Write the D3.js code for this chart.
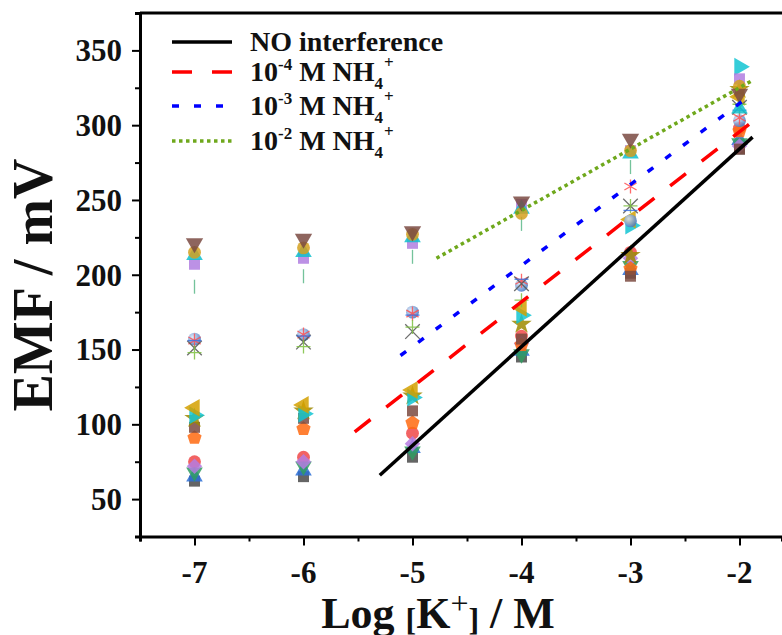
<!doctype html>
<html lang="en">
  <head>
    <meta charset="UTF-8" />
    <title>EMF vs Log [K+]</title>
    <style>
      body { margin: 0; background: #fff; }
      svg text { font-family: "Liberation Serif", "Times New Roman", serif; font-weight: bold; fill: #111; }
    </style>
  </head>
  <body>
    <div id="chart"></div>
    <script src="https://cdn.jsdelivr.net/npm/d3@7"></script>
    <script>
      // concentrations (log scale)
      const logK = [-7, -6, -5, -4, -3, -2];

      // measured EMF values (mV), one array per series
      const sDarkSquare   = [62, 65, 78, 145, 201, 284];
      const sRedCircle    = [75, 78, 94, 159, 215, 298];
      const sBlueTri      = [65, 69, 84, 149, 203, 290];
      const sGreenDown    = [68, 72, 82, 147, 206, 288];
      const sDiamond      = [72, 75, 87, 154, 211, 286];
      const sPentagon     = [91, 97, 101, 153, 204, 296];
      const sBrownSquare  = [98, 104, 109, 157, 199, 284];
      const sStar         = [104, 109, 119, 167, 213, 324];
      const sRightTri     = [106, 107, 118, 173, 233, 339];
      const sLeftTri      = [111, 113, 123, 178, 237, 319];
      const sSphere       = [157, 160, 175, 193, 236, 303];
      const sAsterisk     = [156, 160, 174, 196, 259, 305];
      const sCross        = [151, 155, 162, 194, 246, 312];
      const sPlus         = [148, 152, 165, 183, 246, 314];
      const sDash         = [156, 159, 173, 197, 243, 310];
      const sBar          = [192, 199, 212, 234, 272, 312];
      const sPurpleSquare = [207, 211, 221, 247, 283, 331];
      const sCyanTri      = [213, 215, 225, 244, 281, 311];
      const sGoldCircle   = [215, 218, 227, 241, 283, 326];
      const sBrownDown    = [221, 224, 229, 249, 291, 321];

      // fitted lines: [x0, y0, x1, y1]
      const fitNone = [-5.3, 66, -1.88, 292];
      const fit4 = [-5.53, 95, -1.87, 303];
      const fit3 = [-5.11, 146, -1.88, 321];
      const fit2 = [-4.78, 211, -1.88, 330];

      const legendLabels = ["NO interference", "-4", "-3", "-2"];
      const xTicks = [-7, -6, -5, -4, -3, -2];
      const yTicks = [50, 100, 150, 200, 250, 300, 350];

      const W = 782, H = 635;
      const svg = d3.select("#chart").append("svg").attr("width", W).attr("height", H);
      const defs = svg.append("defs");
      const grad = defs.append("radialGradient").attr("id", "ball").attr("cx", "35%").attr("cy", "35%").attr("r", "65%");
      grad.append("stop").attr("offset", "0%").attr("stop-color", "#d8e6f8");
      grad.append("stop").attr("offset", "100%").attr("stop-color", "#4a7cc4");

      const x = d3.scaleLinear().domain([-7.5, -1.61]).range([140, 782]);
      const y = d3.scaleLinear().domain([25, 375]).range([536.5, 13]);

      // symbol helpers
      const sym = (type, size) => d3.symbol().type(type).size(size)();
      const pentagon = r => {
        const pts = d3.range(5).map(i => {
          const a = -Math.PI / 2 + i * 2 * Math.PI / 5;
          return [r * Math.cos(a), r * Math.sin(a)];
        });
        return "M" + pts.join("L") + "Z";
      };
      const shapes = [
        { data: sDarkSquare, color: "#4a4a4a", d: sym(d3.symbolSquare, 120) },
        { data: sRedCircle, color: "#f04848", d: sym(d3.symbolCircle, 130) },
        { data: sBlueTri, color: "#2b6fd6", d: sym(d3.symbolTriangle, 120) },
        { data: sGreenDown, color: "#2f9c60", d: sym(d3.symbolTriangle, 120), rot: 180 },
        { data: sDiamond, color: "#b57be0", d: sym(d3.symbolSquare, 120), rot: 45 },
        { data: sPentagon, color: "#ff6a10", d: pentagon(7.5) },
        { data: sBrownSquare, color: "#7b4a40", d: sym(d3.symbolSquare, 120) },
        { data: sStar, color: "#9e8a00", d: sym(d3.symbolStar, 130) },
        { data: sRightTri, color: "#12c4d2", d: sym(d3.symbolTriangle, 140), rot: 90 },
        { data: sLeftTri, color: "#d4a000", d: sym(d3.symbolTriangle, 140), rot: -90 },
        { data: sSphere, color: "url(#ball)", d: sym(d3.symbolCircle, 130) },
        { data: sAsterisk, color: "#ff5050", d: sym(d3.symbolAsterisk, 140), line: true },
        { data: sCross, color: "#555555", d: sym(d3.symbolTimes, 140), line: true },
        { data: sPlus, color: "#7cc040", d: "M-7,0H7M0,-7V7", line: true },
        { data: sDash, color: "#3a6fe0", d: "M-7,0H7", line: true },
        { data: sBar, color: "#5cb88a", d: "M0,-7V7", line: true },
        { data: sPurpleSquare, color: "#b07ee0", d: sym(d3.symbolSquare, 120) },
        { data: sCyanTri, color: "#10c0cc", d: sym(d3.symbolTriangle, 120) },
        { data: sGoldCircle, color: "#d4a020", d: sym(d3.symbolCircle, 130) },
        { data: sBrownDown, color: "#7a4a42", d: sym(d3.symbolTriangle, 130), rot: 180 }
      ];

      const marks = svg.append("g");
      shapes.forEach(s => {
        marks.selectAll(null)
          .data(s.data.map((v, i) => [logK[i], v]))
          .enter().append("path")
          .attr("d", s.d)
          .attr("transform", d => `translate(${x(d[0])},${y(d[1])}) rotate(${s.rot || 0})`)
          .attr("fill", s.line ? "none" : s.color)
          .attr("stroke", s.line ? s.color : "none")
          .attr("stroke-width", 1.3)
          .attr("opacity", 0.85);
      });

      // fitted lines
      const fits = [
        { f: fitNone, color: "#000", dash: null },
        { f: fit4, color: "#ff0000", dash: "20,20" },
        { f: fit3, color: "#0000ff", dash: "7,15" },
        { f: fit2, color: "#6fa81c", dash: "3.5,3.5" }
      ];
      fits.forEach(l => {
        svg.append("line")
          .attr("x1", x(l.f[0])).attr("y1", y(l.f[1]))
          .attr("x2", x(l.f[2])).attr("y2", y(l.f[3]))
          .attr("stroke", l.color).attr("stroke-width", 3.5)
          .attr("stroke-dasharray", l.dash);
      });

      // axes
      const xAxis = svg.append("g").attr("transform", `translate(0,${y(25)})`)
        .call(d3.axisBottom(x).tickValues(d3.range(-7.5, -1.9, 0.5)).tickSize(5).tickFormat(""));
      xAxis.selectAll(".tick line").filter(d => Number.isInteger(d)).attr("y2", 9);
      xAxis.selectAll(".tick line").attr("stroke-width", 2);
      xAxis.select(".domain").attr("stroke-width", 3);
      xAxis.selectAll(null).data(xTicks).enter().append("text")
        .attr("x", d => x(d)).attr("y", 46).attr("text-anchor", "middle")
        .style("font-size", "31px").text(d => d);

      const yAxis = svg.append("g").attr("transform", "translate(140,0)")
        .call(d3.axisLeft(y).tickValues(d3.range(25, 376, 25)).tickSize(5).tickFormat(""));
      yAxis.selectAll(".tick line").filter(d => d % 50 === 0).attr("x2", -8);
      yAxis.selectAll(".tick line").attr("stroke-width", 2);
      yAxis.select(".domain").attr("stroke-width", 3);
      yAxis.selectAll(null).data(yTicks).enter().append("text")
        .attr("x", -18).attr("y", d => y(d)).attr("dy", "0.35em").attr("text-anchor", "end")
        .style("font-size", "31px").text(d => d);

      svg.append("line").attr("x1", 140).attr("x2", W).attr("y1", 13).attr("y2", 13)
        .attr("stroke", "#000").attr("stroke-width", 3);

      // axis titles
      svg.append("text")
        .attr("transform", "translate(52,285) rotate(-90)")
        .attr("text-anchor", "middle").style("font-size", "56px")
        .text("EMF / mV");

      const xt = svg.append("text").attr("x", 438).attr("y", 628)
        .attr("text-anchor", "middle").style("font-size", "44px");
      xt.append("tspan").text("Log ");
      xt.append("tspan").style("font-size", "32px").attr("dy", 2).text("[");
      xt.append("tspan").attr("dy", -2).text("K");
      xt.append("tspan").style("font-size", "32px").style("font-weight", "normal").attr("dy", -14).text("+");
      xt.append("tspan").style("font-size", "32px").attr("dy", 16).text("]");
      xt.append("tspan").attr("dy", -2).text(" / M");

      // legend
      const legY = [42, 72, 106, 141];
      const leg = svg.append("g");
      fits.forEach((l, i) => {
        leg.append("line").attr("x1", 172).attr("x2", 232)
          .attr("y1", legY[i]).attr("y2", legY[i])
          .attr("stroke", l.color).attr("stroke-width", 3.5)
          .attr("stroke-dasharray", l.dash);
        const t = leg.append("text").attr("x", 250).attr("y", legY[i] + 9).style("font-size", "28px");
        if (i === 0) {
          t.text(legendLabels[0]);
        } else {
          t.append("tspan").text("10");
          t.append("tspan").style("font-size", "17px").attr("dy", -11).text(legendLabels[i]);
          t.append("tspan").attr("dy", 11).text(" M NH");
          t.append("tspan").style("font-size", "17px").attr("dy", 8).text("4");
          t.append("tspan").style("font-size", "17px").attr("dx", 1).attr("dy", -21).text("+");
        }
      });
    </script>
  </body>
</html>
